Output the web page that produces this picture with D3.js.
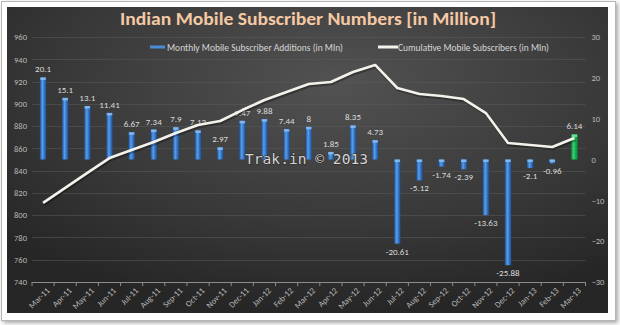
<!DOCTYPE html>
<html>
<head>
<meta charset="utf-8">
<script src="https://cdn.jsdelivr.net/npm/d3@7/dist/d3.min.js"></script>
<style>
  html, body { margin: 0; padding: 0; background: #ffffff; }
  svg { display: block; }
  text { font-family: Carlito, "Liberation Sans Narrow", Lato, "Open Sans", sans-serif; }
</style>
</head>
<body>
<svg id="chart" width="620" height="325"></svg>
<script>
// Months shown on the category axis
const months = ["Mar-11","Apr-11","May-11","Jun-11","Jul-11","Aug-11","Sep-11","Oct-11","Nov-11",
  "Dec-11","Jan-12","Feb-12","Mar-12","Apr-12","May-12","Jun-12","Jul-12","Aug-12","Sep-12",
  "Oct-12","Nov-12","Dec-12","Jan-13","Feb-13","Mar-13"];

// Monthly net additions (millions) – right axis
const additions = [20.1, 15.1, 13.1, 11.41, 6.67, 7.34, 7.9, 7.12, 2.97, 9.47, 9.88, 7.44, 8,
  1.85, 8.35, 4.73, -20.61, -5.12, -1.74, -2.39, -13.63, -25.88, -2.1, -0.96, 6.14];

// Cumulative subscriber base (millions) – left axis
const cumulative = [811, 824.5, 838, 851.3, 858.5, 865.7, 873.8, 881, 884.6, 894.4, 903.4, 910.6,
  917.8, 919.6, 928.6, 934.9, 914.2, 908.8, 907, 904.3, 891.7, 864.8, 863, 861.2, 869.3];

const leftTicks = [740, 760, 780, 800, 820, 840, 860, 880, 900, 920, 940, 960];
const rightTicks = [-30, -20, -10, 0, 10, 20, 30];

const titleText = "Indian Mobile Subscriber Numbers [in Million]";
const barLegend = "Monthly Mobile Subscriber Additions (in Mln)";
const lineLegend = "Cumulative Mobile Subscribers (in Mln)";
const watermark = "Trak.in \u00A9 2013";

const svg = d3.select("#chart");
const defs = svg.append("defs");

// Panel background: soft radial light over charcoal
const bg = defs.append("radialGradient").attr("id", "bgGrad")
  .attr("cx", "55%").attr("cy", "25%").attr("r", "75%");
bg.append("stop").attr("offset", "0%").attr("stop-color", "#525252");
bg.append("stop").attr("offset", "60%").attr("stop-color", "#393939");
bg.append("stop").attr("offset", "100%").attr("stop-color", "#262626");

// Cylinder-like bar fills
function barGradient(id, edge, mid, light) {
  const g = defs.append("linearGradient").attr("id", id)
    .attr("x1", "0%").attr("x2", "100%").attr("y1", "0%").attr("y2", "0%");
  g.append("stop").attr("offset", "0%").attr("stop-color", edge);
  g.append("stop").attr("offset", "40%").attr("stop-color", light);
  g.append("stop").attr("offset", "60%").attr("stop-color", mid);
  g.append("stop").attr("offset", "100%").attr("stop-color", edge);
}
barGradient("blueBar", "#1b4a8c", "#3f82d2", "#5b9ee8");
barGradient("greenBar", "#0a8a3a", "#14b552", "#3fd47a");

const shadow = defs.append("filter").attr("id", "frameShadow")
  .attr("x", "-5%").attr("y", "-5%").attr("width", "110%").attr("height", "115%");
shadow.append("feDropShadow").attr("dx", 2).attr("dy", 2).attr("stdDeviation", 2)
  .attr("flood-color", "#000").attr("flood-opacity", 0.35);

// Outer photo frame
svg.append("rect").attr("x", 1.5).attr("y", 1.5).attr("width", 614).attr("height", 319)
  .attr("fill", "#ffffff").attr("stroke", "#b5b5b5").attr("stroke-width", 1)
  .attr("filter", "url(#frameShadow)");
svg.append("rect").attr("x", 7).attr("y", 7).attr("width", 601).attr("height", 306)
  .attr("fill", "url(#bgGrad)");

// Scales
const x = d3.scaleBand().domain(months).range([32, 585.5]).paddingInner(0).paddingOuter(0);
const yL = d3.scaleLinear().domain([740, 960]).range([282, 37]);
const yR = d3.scaleLinear().domain([-30, 30]).range([282, 37]);

// Gridlines
svg.append("g").selectAll("line").data(leftTicks.slice(1)).join("line")
  .attr("x1", 32).attr("x2", 585.5)
  .attr("y1", d => Math.round(yL(d)) + 0.5).attr("y2", d => Math.round(yL(d)) + 0.5)
  .attr("stroke", "#5a5a5a").attr("stroke-opacity", 0.55).attr("stroke-width", 1);

// Left axis
const axL = svg.append("g").attr("transform", "translate(32,0)")
  .call(d3.axisLeft(yL).tickValues(leftTicks).tickSize(0).tickPadding(5));
axL.select(".domain").remove();
axL.selectAll("text").attr("fill", "#b8b8b8").attr("font-size", 8.5);

// Right axis
const axR = svg.append("g").attr("transform", "translate(585.5,0)")
  .call(d3.axisRight(yR).tickValues(rightTicks).tickSize(0).tickPadding(6));
axR.select(".domain").remove();
axR.selectAll("text").attr("fill", "#b8b8b8").attr("font-size", 8.5);

// Category axis with boundary ticks
const axB = svg.append("g").attr("transform", "translate(0,282)");
axB.append("line").attr("x1", 32).attr("x2", 585.5).attr("y1", 0.5).attr("y2", 0.5)
  .attr("stroke", "#8c8c8c").attr("stroke-width", 1);
const bounds = months.map(m => x(m)).concat([x.range()[1]]);
axB.selectAll("line.tick").data(bounds).join("line").attr("class", "tick")
  .attr("x1", d => d).attr("x2", d => d).attr("y1", 0).attr("y2", 4)
  .attr("stroke", "#8c8c8c").attr("stroke-width", 1);
axB.selectAll("text").data(months).join("text")
  .attr("transform", d => `translate(${x(d) + x.bandwidth() / 2 + 5},${7}) rotate(-45)`)
  .attr("text-anchor", "end").attr("dy", "0.35em")
  .attr("fill", "#b8b8b8").attr("font-size", 8.5)
  .text(d => d);

// Bars (monthly additions)
const bw = 6.5;
const bars = svg.append("g");
bars.selectAll("rect.bar").data(additions).join("rect").attr("class", "bar")
  .attr("x", (d, i) => x(months[i]) + x.bandwidth() / 2 - bw / 2)
  .attr("width", bw)
  .attr("y", d => yR(Math.max(0, d)))
  .attr("height", d => Math.abs(yR(d) - yR(0)))
  .attr("fill", (d, i) => i === additions.length - 1 ? "url(#greenBar)" : "url(#blueBar)");
// light caps at the top face of each bar
bars.selectAll("rect.cap").data(additions).join("rect").attr("class", "cap")
  .attr("x", (d, i) => x(months[i]) + x.bandwidth() / 2 - bw / 2 + 0.5)
  .attr("width", bw - 1)
  .attr("y", d => yR(Math.max(0, d)))
  .attr("height", 2.5)
  .attr("fill", (d, i) => i === additions.length - 1 ? "#6ee89c" : "#8cc0f2")
  .attr("opacity", 0.85);

// Value labels
svg.append("g").selectAll("text").data(additions).join("text")
  .attr("x", (d, i) => x(months[i]) + x.bandwidth() / 2)
  .attr("y", d => d >= 0 ? yR(d) - 5 : yR(d) + 11)
  .attr("text-anchor", "middle")
  .attr("fill", "#dcdcdc").attr("font-size", 9)
  .text(d => d);

// Cumulative line
const line = d3.line()
  .x((d, i) => x(months[i]) + x.bandwidth() / 2)
  .y(d => yL(d));
svg.append("path").datum(cumulative)
  .attr("d", line).attr("fill", "none")
  .attr("stroke", "#000").attr("stroke-opacity", 0.3).attr("stroke-width", 3.5)
  .attr("transform", "translate(1,1.5)");
svg.append("path").datum(cumulative)
  .attr("d", line).attr("fill", "none")
  .attr("stroke", "#f4f2ea").attr("stroke-width", 2.6)
  .attr("stroke-linejoin", "round");

// Title
svg.append("text").attr("x", 308).attr("y", 25)
  .attr("text-anchor", "middle").attr("font-size", 19).attr("font-weight", 600)
  .attr("fill", "#f5c9a3").attr("textLength", 376).attr("lengthAdjust", "spacingAndGlyphs")
  .text(titleText);

// Legend
const lg = svg.append("g");
lg.append("rect").attr("x", 150).attr("y", 45.5).attr("width", 15).attr("height", 3)
  .attr("fill", "#4a8ad6");
lg.append("text").attr("x", 167).attr("y", 50.5).attr("font-size", 9.5)
  .attr("fill", "#d6d6d6").attr("textLength", 176).attr("lengthAdjust", "spacingAndGlyphs")
  .text(barLegend);
lg.append("rect").attr("x", 378).attr("y", 45.5).attr("width", 20).attr("height", 3)
  .attr("fill", "#f4f2ea");
lg.append("text").attr("x", 398).attr("y", 50.5).attr("font-size", 9.5)
  .attr("fill", "#d6d6d6").attr("textLength", 151).attr("lengthAdjust", "spacingAndGlyphs")
  .text(lineLegend);

// Watermark
svg.append("text").attr("x", 245).attr("y", 164)
  .style("font-family", "'DejaVu Sans Mono', 'Liberation Mono', monospace")
  .attr("font-size", 14.6).attr("fill", "#d4d4d4")
  .attr("stroke", "#2a2a2a").attr("stroke-width", 1.2).attr("paint-order", "stroke")
  .text(watermark);
</script>
</body>
</html>
